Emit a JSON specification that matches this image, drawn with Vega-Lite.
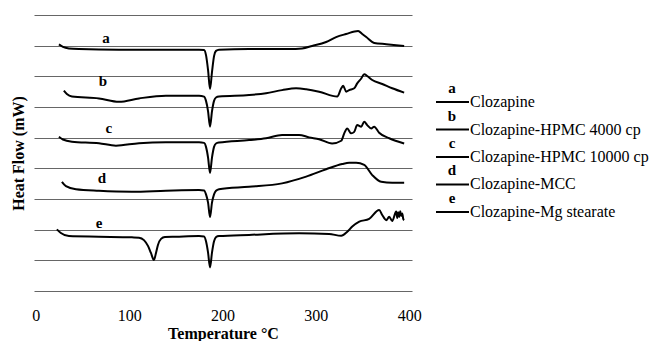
{
  "$schema": "https://vega.github.io/schema/vega-lite/v6.json",
  "padding": {"left": 10, "top": 15, "right": 0, "bottom": 0},
  "background": "white",
  "bounds": "flush",
  "spacing": 17,
  "config": {"view": {"stroke": null}, "font": "Liberation Serif"},
  "datasets": {
    "dsc": [
      {"s":"a","T":24.7,"hf":8.04},{"s":"a","T":29.0,"hf":7.96},{"s":"a","T":35.4,"hf":7.91},{"s":"a","T":46.1,"hf":7.89},{"s":"a","T":89.0,"hf":7.87},{"s":"a","T":131.9,"hf":7.87},{"s":"a","T":174.8,"hf":7.87},{"s":"a","T":180.2,"hf":7.86},{"s":"a","T":182.3,"hf":7.69},{"s":"a","T":184.5,"hf":7.20},{"s":"a","T":186.6,"hf":6.59},{"s":"a","T":188.7,"hf":7.14},{"s":"a","T":190.9,"hf":7.66},{"s":"a","T":193.0,"hf":7.83},{"s":"a","T":196.2,"hf":7.87},{"s":"a","T":228.4,"hf":7.89},{"s":"a","T":271.3,"hf":7.89},{"s":"a","T":285.3,"hf":7.91},{"s":"a","T":296.0,"hf":7.99},{"s":"a","T":311.0,"hf":8.12},{"s":"a","T":321.7,"hf":8.28},{"s":"a","T":332.4,"hf":8.38},{"s":"a","T":345.3,"hf":8.48},{"s":"a","T":349.7,"hf":8.38},{"s":"a","T":354.0,"hf":8.28},{"s":"a","T":362.5,"hf":8.09},{"s":"a","T":375.4,"hf":8.05},{"s":"a","T":394.6,"hf":7.99},
      {"s":"b","T":30.0,"hf":6.53},{"s":"b","T":33.2,"hf":6.42},{"s":"b","T":38.6,"hf":6.34},{"s":"b","T":67.6,"hf":6.28},{"s":"b","T":89.0,"hf":6.17},{"s":"b","T":110.5,"hf":6.28},{"s":"b","T":139.4,"hf":6.37},{"s":"b","T":174.8,"hf":6.37},{"s":"b","T":180.2,"hf":6.34},{"s":"b","T":182.3,"hf":6.20},{"s":"b","T":184.5,"hf":5.86},{"s":"b","T":186.6,"hf":5.36},{"s":"b","T":188.7,"hf":5.86},{"s":"b","T":190.9,"hf":6.20},{"s":"b","T":193.0,"hf":6.31},{"s":"b","T":196.2,"hf":6.34},{"s":"b","T":228.4,"hf":6.39},{"s":"b","T":246.6,"hf":6.45},{"s":"b","T":263.8,"hf":6.55},{"s":"b","T":278.8,"hf":6.61},{"s":"b","T":289.6,"hf":6.58},{"s":"b","T":303.5,"hf":6.50},{"s":"b","T":322.9,"hf":6.34},{"s":"b","T":327.2,"hf":6.61},{"s":"b","T":329.3,"hf":6.69},{"s":"b","T":332.5,"hf":6.50},{"s":"b","T":335.7,"hf":6.55},{"s":"b","T":341.1,"hf":6.61},{"s":"b","T":344.3,"hf":6.77},{"s":"b","T":348.6,"hf":6.93},{"s":"b","T":351.8,"hf":7.07},{"s":"b","T":355.0,"hf":7.01},{"s":"b","T":360.4,"hf":6.88},{"s":"b","T":371.1,"hf":6.75},{"s":"b","T":381.8,"hf":6.61},{"s":"b","T":394.6,"hf":6.47},
      {"s":"c","T":24.7,"hf":5.03},{"s":"c","T":29.0,"hf":4.94},{"s":"c","T":38.6,"hf":4.87},{"s":"c","T":67.6,"hf":4.82},{"s":"c","T":85.8,"hf":4.74},{"s":"c","T":110.5,"hf":4.82},{"s":"c","T":139.4,"hf":4.85},{"s":"c","T":174.8,"hf":4.85},{"s":"c","T":180.2,"hf":4.83},{"s":"c","T":182.3,"hf":4.70},{"s":"c","T":184.5,"hf":4.35},{"s":"c","T":186.6,"hf":3.85},{"s":"c","T":188.7,"hf":4.35},{"s":"c","T":190.9,"hf":4.70},{"s":"c","T":193.0,"hf":4.81},{"s":"c","T":196.2,"hf":4.84},{"s":"c","T":228.4,"hf":4.92},{"s":"c","T":246.6,"hf":4.98},{"s":"c","T":263.8,"hf":5.09},{"s":"c","T":282.0,"hf":5.09},{"s":"c","T":292.8,"hf":5.01},{"s":"c","T":303.5,"hf":4.95},{"s":"c","T":317.4,"hf":4.81},{"s":"c","T":327.2,"hf":4.90},{"s":"c","T":330.4,"hf":5.14},{"s":"c","T":333.6,"hf":5.30},{"s":"c","T":337.8,"hf":5.14},{"s":"c","T":341.1,"hf":5.19},{"s":"c","T":344.3,"hf":5.41},{"s":"c","T":348.6,"hf":5.36},{"s":"c","T":351.8,"hf":5.52},{"s":"c","T":355.0,"hf":5.41},{"s":"c","T":359.3,"hf":5.30},{"s":"c","T":362.5,"hf":5.36},{"s":"c","T":367.8,"hf":5.16},{"s":"c","T":378.6,"hf":4.98},{"s":"c","T":394.6,"hf":4.81},
      {"s":"d","T":27.9,"hf":3.56},{"s":"d","T":32.2,"hf":3.42},{"s":"d","T":42.9,"hf":3.32},{"s":"d","T":67.6,"hf":3.27},{"s":"d","T":102.9,"hf":3.24},{"s":"d","T":139.4,"hf":3.27},{"s":"d","T":174.8,"hf":3.29},{"s":"d","T":180.2,"hf":3.28},{"s":"d","T":182.3,"hf":3.15},{"s":"d","T":184.5,"hf":2.88},{"s":"d","T":186.6,"hf":2.41},{"s":"d","T":188.7,"hf":2.88},{"s":"d","T":190.9,"hf":3.15},{"s":"d","T":193.0,"hf":3.27},{"s":"d","T":196.2,"hf":3.32},{"s":"d","T":228.4,"hf":3.40},{"s":"d","T":263.8,"hf":3.51},{"s":"d","T":289.6,"hf":3.73},{"s":"d","T":311.0,"hf":3.97},{"s":"d","T":328.2,"hf":4.14},{"s":"d","T":335.7,"hf":4.18},{"s":"d","T":343.2,"hf":4.18},{"s":"d","T":351.8,"hf":4.11},{"s":"d","T":360.4,"hf":3.78},{"s":"d","T":370.0,"hf":3.56},{"s":"d","T":381.8,"hf":3.53},{"s":"d","T":394.6,"hf":3.53},
      {"s":"e","T":22.5,"hf":2.01},{"s":"e","T":26.8,"hf":1.89},{"s":"e","T":35.4,"hf":1.79},{"s":"e","T":67.6,"hf":1.77},{"s":"e","T":102.9,"hf":1.75},{"s":"e","T":110.5,"hf":1.74},{"s":"e","T":115.8,"hf":1.66},{"s":"e","T":120.1,"hf":1.47},{"s":"e","T":123.3,"hf":1.24},{"s":"e","T":126.5,"hf":1.01},{"s":"e","T":128.7,"hf":1.24},{"s":"e","T":130.8,"hf":1.50},{"s":"e","T":134.1,"hf":1.70},{"s":"e","T":138.3,"hf":1.76},{"s":"e","T":150.1,"hf":1.77},{"s":"e","T":174.8,"hf":1.79},{"s":"e","T":180.2,"hf":1.78},{"s":"e","T":182.3,"hf":1.62},{"s":"e","T":184.5,"hf":1.25},{"s":"e","T":186.6,"hf":0.77},{"s":"e","T":188.7,"hf":1.25},{"s":"e","T":190.9,"hf":1.62},{"s":"e","T":193.0,"hf":1.76},{"s":"e","T":196.2,"hf":1.79},{"s":"e","T":228.4,"hf":1.83},{"s":"e","T":282.0,"hf":1.88},{"s":"e","T":314.2,"hf":1.86},{"s":"e","T":327.2,"hf":1.80},{"s":"e","T":333.6,"hf":1.93},{"s":"e","T":339.0,"hf":2.10},{"s":"e","T":346.5,"hf":2.26},{"s":"e","T":357.1,"hf":2.35},{"s":"e","T":367.8,"hf":2.64},{"s":"e","T":371.1,"hf":2.48},{"s":"e","T":375.4,"hf":2.31},{"s":"e","T":378.6,"hf":2.42},{"s":"e","T":381.8,"hf":2.28},{"s":"e","T":386.1,"hf":2.59},{"s":"e","T":387.2,"hf":2.38},{"s":"e","T":388.2,"hf":2.57},{"s":"e","T":389.3,"hf":2.42},{"s":"e","T":390.4,"hf":2.60},{"s":"e","T":391.5,"hf":2.45},{"s":"e","T":392.6,"hf":2.53},{"s":"e","T":393.6,"hf":2.35},{"s":"e","T":394.6,"hf":2.31}
    ],
    "letters": [
      {"s":"a","T":75.1,"hf":8.26},{"s":"b","T":71.9,"hf":6.85},{"s":"c","T":78.3,"hf":5.33},{"s":"d","T":70.8,"hf":3.68},{"s":"e","T":67.6,"hf":2.23}
    ],
    "legend": [
      {"row":0,"letter":"a","name":"Clozapine"},
      {"row":1,"letter":"b","name":"Clozapine-HPMC 4000 cp"},
      {"row":2,"letter":"c","name":"Clozapine-HPMC 10000 cp"},
      {"row":3,"letter":"d","name":"Clozapine-MCC"},
      {"row":4,"letter":"e","name":"Clozapine-Mg stearate"}
    ]
  },
  "hconcat": [
    {
      "width": 378,
      "height": 276,
      "encoding": {
        "x": {"field": "T", "type": "quantitative",
          "scale": {"domain": [-2, 403], "nice": false, "zero": false},
          "axis": {"values": [0,100,200,300,400], "grid": false, "ticks": false, "domain": false, "labelFlush": false,
            "labelFont": "Liberation Serif", "labelFontSize": 16, "labelColor": "black", "labelPadding": 16,
            "title": "Temperature °C", "titleFont": "Liberation Serif", "titleFontSize": 16, "titleFontWeight": "bold", "titleColor": "black", "titlePadding": 2}},
        "y": {"field": "hf", "type": "quantitative",
          "scale": {"domain": [0, 9], "nice": false, "zero": false},
          "axis": {"values": [0,1,2,3,4,5,6,7,8,9], "labels": false, "ticks": false, "domain": false, "grid": true, "gridColor": "#666", "gridWidth": 1.2,
            "title": "Heat Flow (mW)", "titleFont": "Liberation Serif", "titleFontSize": 16, "titleFontWeight": "bold", "titleColor": "black", "titlePadding": 8}}
      },
      "layer": [
        {"data": {"name": "dsc"}, "mark": {"type": "line", "color": "black", "strokeWidth": 2, "interpolate": "monotone"},
          "encoding": {"detail": {"field": "s"}}},
        {"data": {"name": "letters"}, "mark": {"type": "text", "fontSize": 15, "fontWeight": "bold", "baseline": "middle", "align": "center", "color": "black"},
          "encoding": {"text": {"field": "s"}}},
        {"data": {"values": [{}]}, "mark": {"type": "rule", "color": "black", "strokeWidth": 2},
          "encoding": {"y": {"datum": 9}, "x": null}},
        {"data": {"values": [{}]}, "mark": {"type": "rule", "color": "#444", "strokeWidth": 1.6},
          "encoding": {"y": {"datum": 0}, "x": null}}
      ]
    },
    {
      "width": 224,
      "height": 276,
      "data": {"name": "legend"},
      "layer": [
        {"mark": {"type": "rule", "color": "black", "strokeWidth": 2},
          "encoding": {
            "x": {"datum": 7, "type": "quantitative", "scale": {"domain": [0, 224], "nice": false, "zero": false}, "axis": null},
            "x2": {"datum": 40},
            "y": {"field": "row", "type": "quantitative", "scale": {"domain": [-3.164, 6.873], "reverse": true, "nice": false, "zero": false}, "axis": null}}},
        {"mark": {"type": "text", "align": "center", "baseline": "middle", "dy": -14, "fontSize": 15, "fontWeight": "bold", "color": "black"},
          "encoding": {
            "x": {"datum": 23, "type": "quantitative"},
            "y": {"field": "row", "type": "quantitative"},
            "text": {"field": "letter"}}},
        {"mark": {"type": "text", "align": "left", "baseline": "middle", "dx": 1, "fontSize": 16, "color": "black", "clip": true},
          "encoding": {
            "x": {"datum": 40, "type": "quantitative"},
            "y": {"field": "row", "type": "quantitative"},
            "text": {"field": "name"}}}
      ]
    }
  ]
}
